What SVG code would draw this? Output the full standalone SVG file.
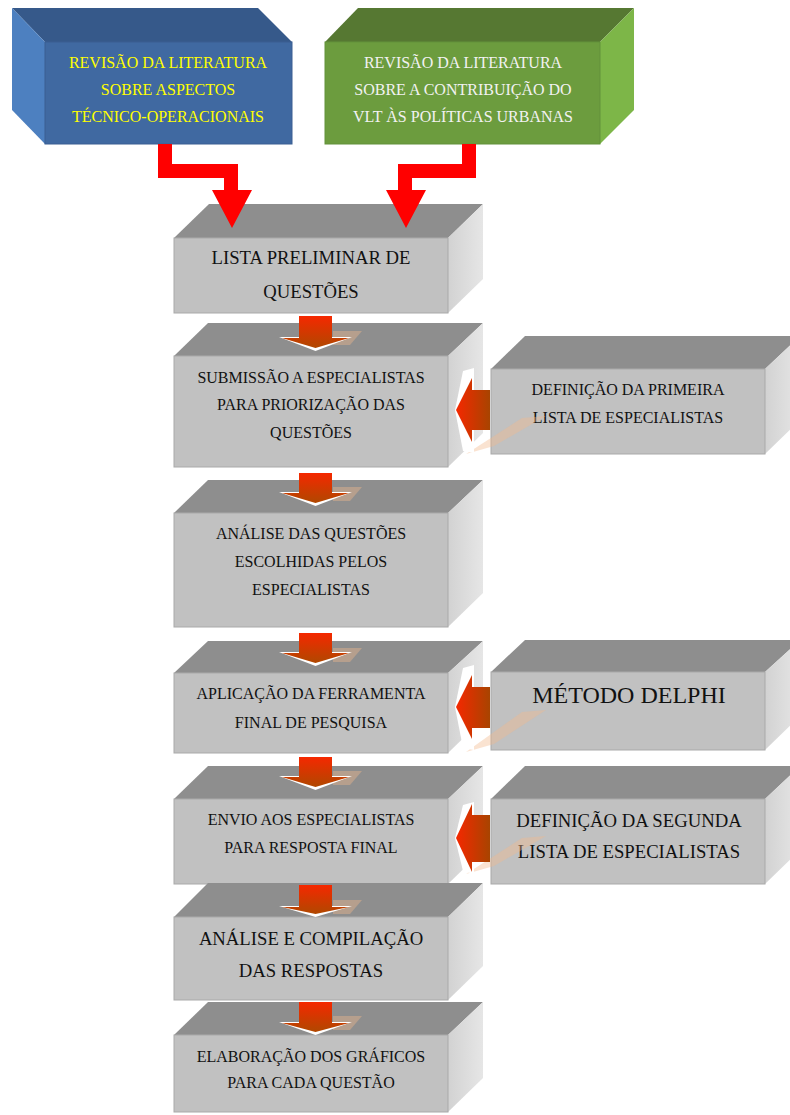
<svg xmlns="http://www.w3.org/2000/svg" width="790" height="1115" viewBox="0 0 790 1115">
<style>
.top{fill:#8e8e8e}
.front{fill:#c1c1c1;stroke:#a9a9a9;stroke-width:1}
.side{fill:url(#sideG)}
.t{font-family:"Liberation Serif","Times New Roman",serif;fill:#111;text-anchor:middle}
.s16{font-size:16px}
.s19{font-size:18.7px}
.s24{font-size:24px}
.big{fill:#ff0000}
.dn{fill:url(#dnG)}
.lf{fill:url(#lfG)}
.wh{fill:#ffffff}
.sh{fill:#f2b88c;opacity:0.4}
</style>
<defs>
<linearGradient id="sideG" x1="0" y1="0" x2="1" y2="0">
<stop offset="0" stop-color="#d2d2d2"/><stop offset="1" stop-color="#e6e6e6"/>
</linearGradient>
<linearGradient id="dnG" x1="0" y1="0" x2="0" y2="1">
<stop offset="0" stop-color="#f52800"/><stop offset="1" stop-color="#b04800"/>
</linearGradient>
<linearGradient id="lfG" x1="0" y1="0" x2="1" y2="0">
<stop offset="0" stop-color="#f52800"/><stop offset="1" stop-color="#a84400"/>
</linearGradient>
</defs>

<g id="blue-box">
<polygon points="12,8 258,8 292,42 45,42" fill="#36598a"/>
<polygon points="12,8 45,42 45,144 12,110" fill="#4d80c0"/>
<rect x="45" y="42" width="247" height="102" fill="#4069a1" stroke="#3a5f92" stroke-width="1"/>
<text class="t s16" x="168" y="68" style="fill:#ffff00">REVISÃO DA LITERATURA</text>
<text class="t s16" x="168" y="95" style="fill:#ffff00">SOBRE ASPECTOS</text>
<text class="t s16" x="168" y="122" style="fill:#ffff00">TÉCNICO-OPERACIONAIS</text>
</g>

<g id="green-box">
<polygon points="358,8 634,8 600,42 325,42" fill="#567832"/>
<polygon points="600,42 634,8 634,110 600,144" fill="#7db648"/>
<rect x="325" y="42" width="275" height="102" fill="#6c9c3e" stroke="#62913a" stroke-width="1"/>
<text class="t s16" x="463" y="68" style="fill:#f2f2f2">REVISÃO DA LITERATURA</text>
<text class="t s16" x="463" y="95" style="fill:#f2f2f2">SOBRE A CONTRIBUIÇÃO DO</text>
<text class="t s16" x="463" y="122" style="fill:#f2f2f2">VLT ÀS POLÍTICAS URBANAS</text>
</g>

<g id="box-lista">
<polygon class="top" points="174,238 209,204 483,204 448,238"/>
<polygon class="side" points="448,238 483,204 483,279 448,313"/>
<rect class="front" x="174" y="238" width="274" height="75"/>
<text class="t s19" x="311" y="264">LISTA PRELIMINAR DE</text>
<text class="t s19" x="311" y="298">QUESTÕES</text>
</g>

<g id="box-submissao">
<polygon class="top" points="174,356 208,323 483,323 448,356"/>
<polygon class="side" points="448,356 483,323 483,433 448,467"/>
<rect class="front" x="174" y="356" width="274" height="111"/>
<text class="t s16" x="311" y="383">SUBMISSÃO A ESPECIALISTAS</text>
<text class="t s16" x="311" y="410">PARA PRIORIZAÇÃO DAS</text>
<text class="t s16" x="311" y="438">QUESTÕES</text>
</g>

<g id="box-analise-questoes">
<polygon class="top" points="174,513 208,480 483,480 448,513"/>
<polygon class="side" points="448,513 483,480 483,593 448,627"/>
<rect class="front" x="174" y="513" width="274" height="114"/>
<text class="t s16" x="311" y="539">ANÁLISE DAS QUESTÕES</text>
<text class="t s16" x="311" y="567">ESCOLHIDAS PELOS</text>
<text class="t s16" x="311" y="595">ESPECIALISTAS</text>
</g>

<g id="box-aplicacao">
<polygon class="top" points="174,673 208,641 483,641 448,673"/>
<polygon class="side" points="448,673 483,641 483,719 448,753"/>
<rect class="front" x="174" y="673" width="274" height="80"/>
<text class="t s16" x="311" y="699">APLICAÇÃO DA FERRAMENTA</text>
<text class="t s16" x="311" y="728">FINAL DE PESQUISA</text>
</g>

<g id="box-envio">
<polygon class="top" points="174,799 208,766 483,766 448,799"/>
<polygon class="side" points="448,799 483,766 483,850 448,884"/>
<rect class="front" x="174" y="799" width="274" height="85"/>
<text class="t s16" x="311" y="825">ENVIO AOS ESPECIALISTAS</text>
<text class="t s16" x="311" y="853">PARA RESPOSTA FINAL</text>
</g>

<g id="box-compilacao">
<polygon class="top" points="174,917 208,883 483,883 448,917"/>
<polygon class="side" points="448,917 483,883 483,966 448,1000"/>
<rect class="front" x="174" y="917" width="274" height="83"/>
<text class="t s19" x="311" y="945">ANÁLISE E COMPILAÇÃO</text>
<text class="t s19" x="311" y="977">DAS RESPOSTAS</text>
</g>

<g id="box-graficos">
<polygon class="top" points="174,1035 208,1002 483,1002 448,1035"/>
<polygon class="side" points="448,1035 483,1002 483,1078 448,1112"/>
<rect class="front" x="174" y="1035" width="274" height="77"/>
<text class="t s16" x="311" y="1062">ELABORAÇÃO DOS GRÁFICOS</text>
<text class="t s16" x="311" y="1088">PARA CADA QUESTÃO</text>
</g>

<g id="box-primeira-lista">
<polygon class="top" points="491,369 525,336 800,336 765,369"/>
<polygon class="side" points="765,369 800,336 800,420 765,454"/>
<rect class="front" x="491" y="369" width="274" height="85"/>
<text class="t s16" x="628" y="395">DEFINIÇÃO DA PRIMEIRA</text>
<text class="t s16" x="628" y="423">LISTA DE ESPECIALISTAS</text>
</g>

<g id="box-delphi">
<polygon class="top" points="491,672 525,640 800,640 765,672"/>
<polygon class="side" points="765,672 800,640 800,716 765,750"/>
<rect class="front" x="491" y="672" width="274" height="78"/>
<text class="t s24" x="629" y="703">MÉTODO DELPHI</text>
</g>

<g id="box-segunda-lista">
<polygon class="top" points="491,799 525,766 800,766 765,799"/>
<polygon class="side" points="765,799 800,766 800,850 765,884"/>
<rect class="front" x="491" y="799" width="274" height="85"/>
<text class="t s19" x="629" y="827">DEFINIÇÃO DA SEGUNDA</text>
<text class="t s19" x="629" y="858">LISTA DE ESPECIALISTAS</text>
</g>

<g id="connectors">
<polygon class="big" points="158,144 172,144 172,164 238,164 238,190 252,190 232,228 212,190 224,190 224,178 158,178"/>
<polygon class="big" points="462,144 476,144 476,178 412,178 412,190 426,190 406,228 386,190 398,190 398,164 462,164"/>

<g id="down1">
<polygon class="sh" points="333,331 362,331 350,345 333,345"/>
<polygon class="wh" points="279,337 352,337 315.5,351"/>
<polygon class="dn" points="299,316 332,316 332,338 349,338 315.5,348 282,338 299,338"/>
</g>
<g id="down2">
<polygon class="sh" points="333,487 362,487 350,501 333,501"/>
<polygon class="wh" points="279,492 352,492 315.5,506"/>
<polygon class="dn" points="299,473 332,473 332,493 349,493 315.5,503 282,493 299,493"/>
</g>
<g id="down3">
<polygon class="sh" points="333,648 362,648 350,662 333,662"/>
<polygon class="wh" points="279,652 352,652 315.5,666"/>
<polygon class="dn" points="299,633 332,633 332,653 349,653 315.5,663 282,653 299,653"/>
</g>
<g id="down4">
<polygon class="sh" points="333,771 362,771 350,785 333,785"/>
<polygon class="wh" points="279,776 352,776 315.5,790"/>
<polygon class="dn" points="299,757 332,757 332,777 349,777 315.5,787 282,777 299,777"/>
</g>
<g id="down5">
<polygon class="sh" points="333,900 362,900 350,914 333,914"/>
<polygon class="wh" points="279,906 352,906 315.5,917"/>
<polygon class="dn" points="299,885 332,885 332,907 349,907 315.5,914 282,907 299,907"/>
</g>
<g id="down6">
<polygon class="sh" points="333,1016 362,1016 350,1030 333,1030"/>
<polygon class="wh" points="279,1022 352,1022 315.5,1035"/>
<polygon class="dn" points="299,1002 332,1002 332,1023 349,1023 315.5,1032 282,1023 299,1023"/>
</g>

<g id="left1">
<polygon class="sh" points="466,454 522,418 546,416 494,446"/>
<polygon class="wh" points="474,368 463,371 455,410 463,451 474,453"/>
<polygon class="lf" points="490,390 472,390 472,378 456,410 472,442 472,430 490,430"/>
</g>
<g id="left2">
<polygon class="sh" points="466,752 522,712 546,710 494,744"/>
<polygon class="wh" points="474,665 463,668 455,707 463,748 474,750"/>
<polygon class="lf" points="490,687 472,687 472,675 456,707 472,739 472,728 490,728"/>
</g>
<g id="left3">
<polygon class="sh" points="466,874 522,838 546,836 494,866"/>
<polygon class="wh" points="474,802 463,805 455,838 463,871 474,874"/>
<polygon class="lf" points="490,815 472,815 472,804 456,838 472,872 472,862 490,862"/>
</g>
</g>
</svg>
